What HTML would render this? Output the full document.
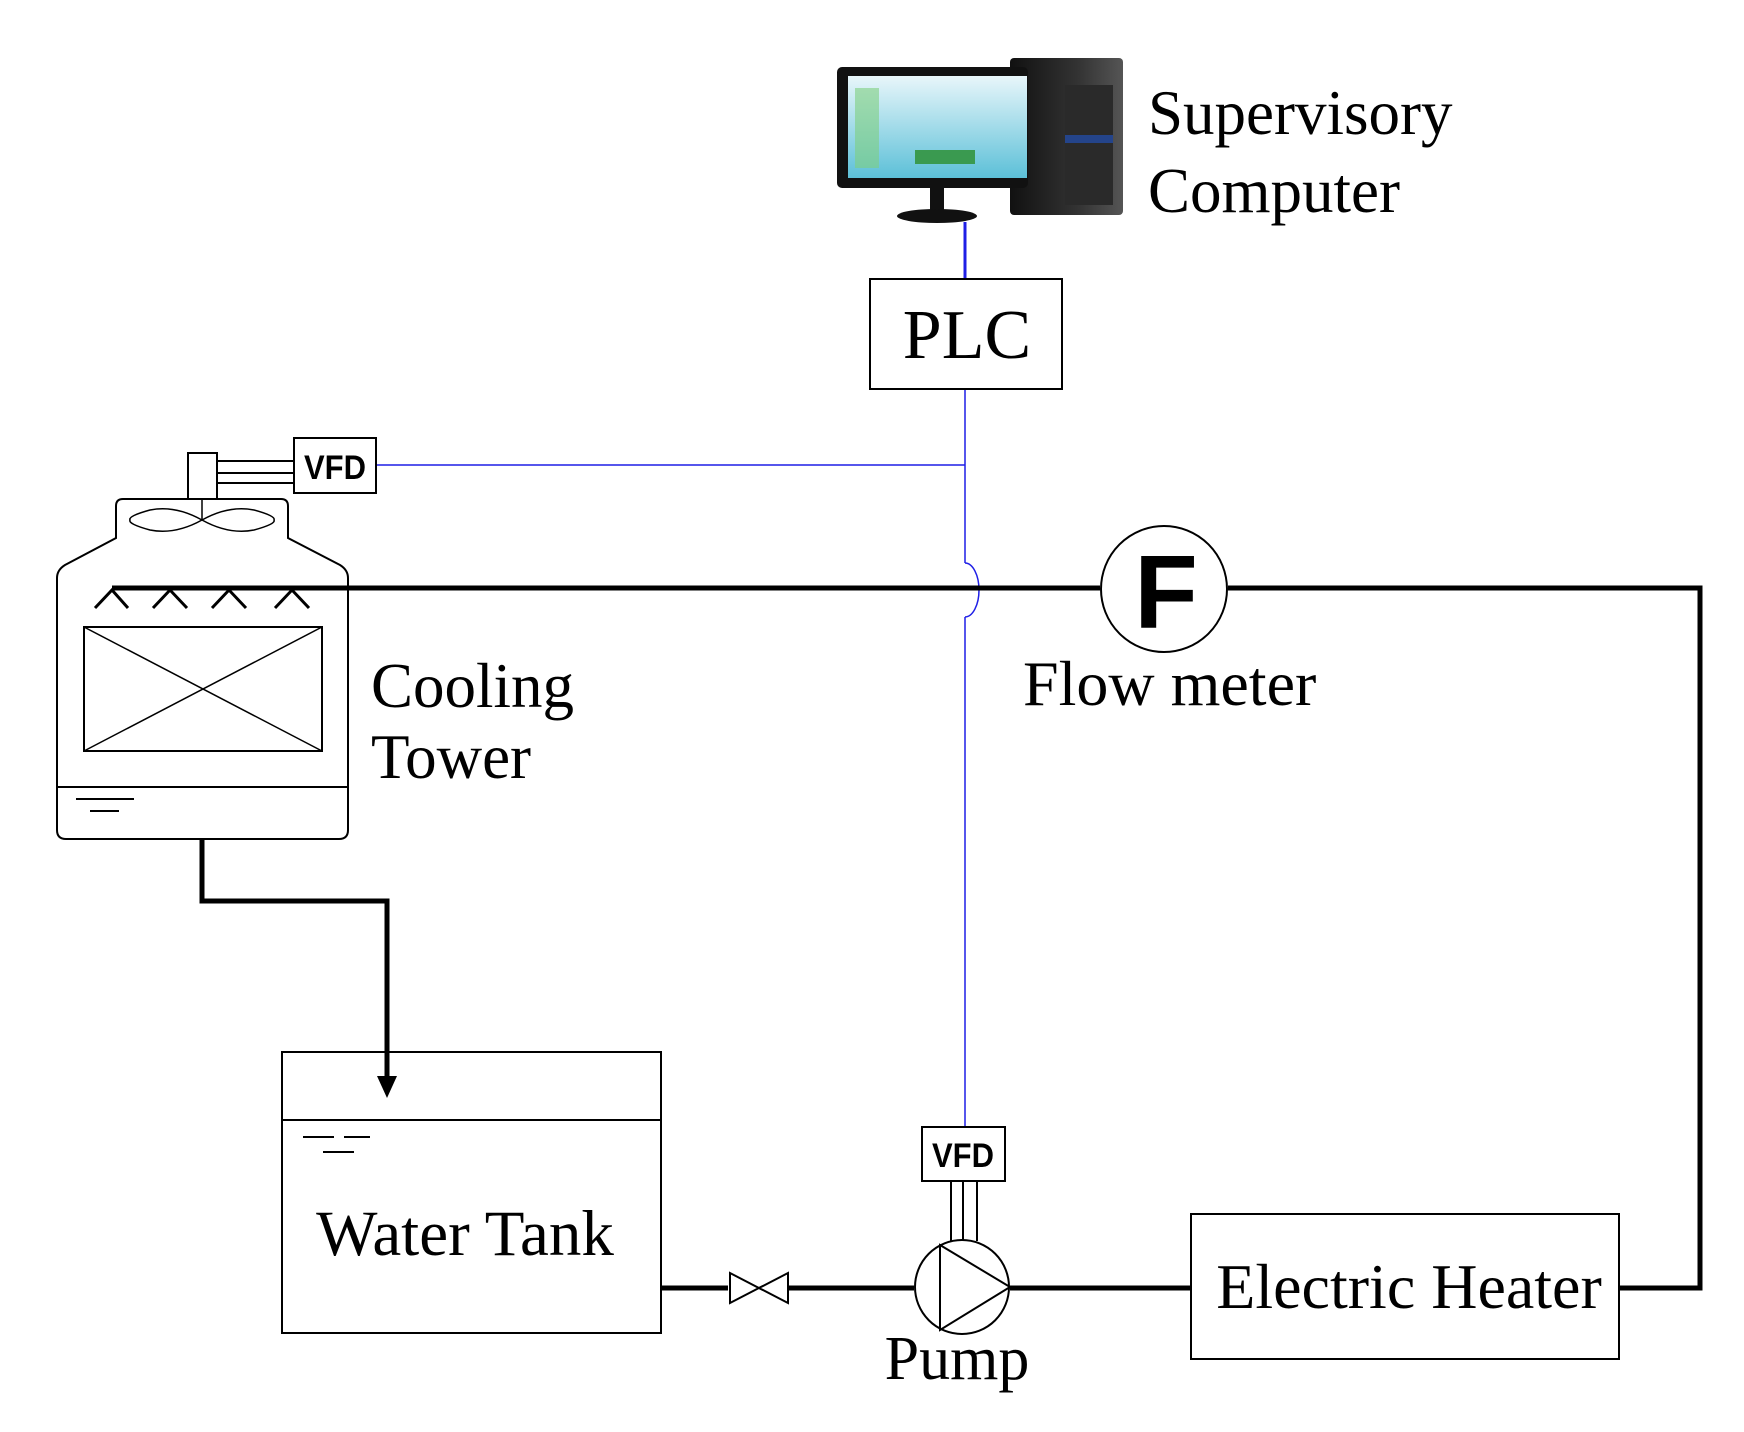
<!DOCTYPE html>
<html><head><meta charset="utf-8"><style>
html,body{margin:0;padding:0;background:#fff;}
svg{display:block;}
text{font-family:"Liberation Serif",serif;fill:#000;}
.s{font-family:"Liberation Sans",sans-serif;}
</style></head><body>
<svg width="1744" height="1432" viewBox="0 0 1744 1432" xmlns="http://www.w3.org/2000/svg">
<defs>
<linearGradient id="scr" x1="0" y1="0" x2="0" y2="1"><stop offset="0" stop-color="#e8f6fa"/><stop offset="1" stop-color="#5cc0d8"/></linearGradient>
<linearGradient id="tw" x1="0" y1="0" x2="1" y2="0"><stop offset="0" stop-color="#111"/><stop offset="0.6" stop-color="#333"/><stop offset="1" stop-color="#555"/></linearGradient>
</defs>
<!-- computer -->
<rect x="1010" y="58" width="113" height="157" rx="4" fill="url(#tw)"/>
<rect x="1065" y="85" width="48" height="120" fill="#2a2a2a"/>
<rect x="1065" y="135" width="48" height="8" fill="#24448a"/>
<rect x="837" y="67" width="191" height="121" rx="5" fill="#111"/>
<rect x="848" y="76" width="179" height="102" fill="url(#scr)"/>
<rect x="855" y="88" width="24" height="80" fill="#7fcf7f" opacity="0.6"/>
<rect x="915" y="150" width="60" height="14" fill="#3a9a50"/>
<rect x="930" y="188" width="14" height="24" fill="#111"/>
<ellipse cx="937" cy="216" rx="40" ry="7" fill="#111"/>
<!-- blue control lines -->
<g stroke="#1f1fe6" fill="none">
<line x1="965" y1="222" x2="965" y2="279" stroke-width="3"/>
<line x1="965" y1="389" x2="965" y2="563" stroke-width="1.5"/>
<path d="M965 563 A14 27 0 0 1 965 617" stroke-width="1.5"/>
<line x1="965" y1="617" x2="965" y2="1127" stroke-width="1.5"/>
<line x1="376" y1="465" x2="965" y2="465" stroke-width="1.5"/>
</g>
<text x="1148" y="134" font-size="63">Supervisory</text>
<text x="1148" y="212" font-size="63">Computer</text>
<!-- PLC -->
<rect x="870" y="279" width="192" height="110" fill="#fff" stroke="#000" stroke-width="2"/>
<text x="967" y="358" font-size="70" text-anchor="middle">PLC</text>
<!-- cooling tower -->
<g fill="none" stroke="#000" stroke-width="2">
<path d="M116 538 V506 Q116 499 123 499 H281 Q288 499 288 506 V538 L340 565 Q348 570 348 578 V830 Q348 839 339 839 H66 Q57 839 57 830 V578 Q57 570 65 565 L116 538 Z"/>
<line x1="57" y1="787" x2="348" y2="787"/>
<line x1="76" y1="799" x2="134" y2="799"/>
<line x1="90" y1="811" x2="119" y2="811"/>
<rect x="84" y="627" width="238" height="124"/>
<line x1="84" y1="627" x2="322" y2="751" stroke-width="1.5"/>
<line x1="322" y1="627" x2="84" y2="751" stroke-width="1.5"/>
<rect x="188" y="453" width="29" height="46"/>
<line x1="217" y1="461" x2="294" y2="461"/>
<line x1="217" y1="473" x2="294" y2="473"/>
<line x1="217" y1="483" x2="294" y2="483"/>
<line x1="202" y1="499" x2="202" y2="520" stroke-width="1.5"/>
<path d="M202 520 Q175 505 150 510 Q128 516 130 520 Q128 524 150 530 Q175 535 202 520 Q229 505 254 510 Q276 516 274 520 Q276 524 254 530 Q229 535 202 520Z" stroke-width="1.5"/>
<rect x="294" y="438" width="82" height="55" fill="#fff"/>
</g>
<text class="s" x="335" y="479" font-size="34" text-anchor="middle" font-weight="bold" textLength="62" lengthAdjust="spacingAndGlyphs">VFD</text>
<g stroke="#000" stroke-width="3" fill="none">
<path d="M95 608 L112 590 L128 608"/>
<path d="M153 608 L170 590 L187 608"/>
<path d="M212 608 L229 590 L246 608"/>
<path d="M275 608 L292 590 L309 608"/>
</g>
<!-- main pipes -->
<g stroke="#000" stroke-width="5" fill="none">
<polyline points="112,588 1100,588"/>
<polyline points="1228,588 1700,588 1700,1288 1619,1288"/>
<polyline points="202,839 202,901 387,901 387,1080"/>
<line x1="661" y1="1288" x2="728" y2="1288"/>
<line x1="788" y1="1288" x2="914" y2="1288"/>
<line x1="1010" y1="1288" x2="1191" y2="1288"/>
</g>
<path d="M377 1076 L397 1076 L387 1098 Z" fill="#000"/>
<!-- flow meter -->
<circle cx="1164" cy="589" r="63" fill="#fff" stroke="#000" stroke-width="2"/>
<text class="s" x="1166" y="628" font-size="104" font-weight="bold" text-anchor="middle">F</text>
<text x="1023" y="705" font-size="64">Flow meter</text>
<text x="371" y="707" font-size="63">Cooling</text>
<text x="371" y="778" font-size="63">Tower</text>
<!-- water tank -->
<g fill="none" stroke="#000" stroke-width="2">
<rect x="282" y="1052" width="379" height="281"/>
<line x1="282" y1="1120" x2="661" y2="1120"/>
<line x1="303" y1="1137" x2="334" y2="1137"/>
<line x1="344" y1="1137" x2="370" y2="1137"/>
<line x1="323" y1="1152" x2="354" y2="1152"/>
<path d="M730 1273 L788 1303 L788 1273 L730 1303 Z"/>
</g>
<text x="465" y="1255" font-size="65" text-anchor="middle">Water Tank</text>
<!-- pump -->
<g fill="none" stroke="#000" stroke-width="2">
<line x1="951" y1="1181" x2="951" y2="1241"/>
<line x1="963" y1="1181" x2="963" y2="1240"/>
<line x1="977" y1="1181" x2="977" y2="1241"/>
<circle cx="962" cy="1287" r="47" fill="#fff"/>
<path d="M940 1245 L1010 1287 L940 1330 Z"/>
<rect x="922" y="1127" width="83" height="54" fill="#fff"/>
</g>
<text class="s" x="963" y="1167" font-size="34" text-anchor="middle" font-weight="bold" textLength="62" lengthAdjust="spacingAndGlyphs">VFD</text>
<text x="957" y="1379" font-size="62" text-anchor="middle">Pump</text>
<!-- heater -->
<rect x="1191" y="1214" width="428" height="145" fill="#fff" stroke="#000" stroke-width="2"/>
<text x="1409" y="1308" font-size="64" text-anchor="middle">Electric Heater</text>
</svg>
</body></html>
